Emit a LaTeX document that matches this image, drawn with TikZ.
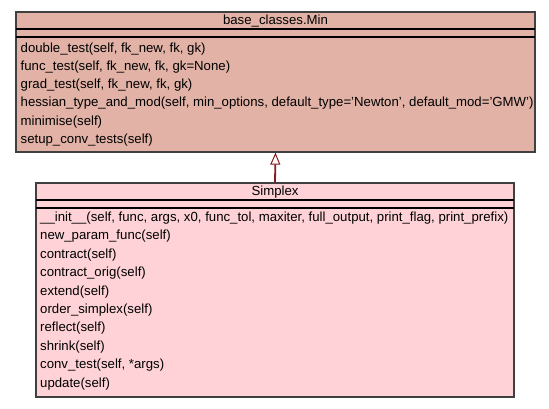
\documentclass[tikz,border=0pt]{standalone}
\usepackage{fontspec}
\setmainfont{Liberation Sans}
\usetikzlibrary{arrows.meta}
\definecolor{minfill}{RGB}{225,178,165}
\definecolor{simfill}{RGB}{254,210,214}
\definecolor{edgecol}{RGB}{64,64,64}
\definecolor{arrowcol}{RGB}{139,26,26}
\begin{document}
\begin{tikzpicture}[x=1pt,y=-1pt,
  classbox/.style={draw=edgecol,line width=1.2pt,rectangle,inner sep=0pt},
  sepline/.style={draw=black,line width=1.2pt},
  member/.style={anchor=west,inner sep=0pt,font=\fontsize{13.2}{15}\selectfont,text height=9.5pt,text depth=3pt},
  titletext/.style={inner sep=0pt,font=\fontsize{13.2}{15}\selectfont,text height=9.5pt,text depth=3pt},
  inherit/.style={draw=arrowcol,line width=1.8pt,-{Triangle[open,length=12pt,width=10pt,line width=1pt]}}
]
\useasboundingbox (0,0) rectangle (549,408);
% base_classes.Min
\node[classbox,fill=minfill,minimum width=519pt,minimum height=140pt] (min) at (275.5,82) {};
\draw[sepline] (16,29) -- (535,29);
\draw[sepline] (16,37) -- (535,37);
\node[titletext] (mintitle) at (275.5,21.5) {base\_classes.Min};
\node[member] (m1) at (20.5,48.8) {double\_test(self, fk\_new, fk, gk)};
\node[member] (m2) at (20.5,67.1) {func\_test(self, fk\_new, fk, gk=None)};
\node[member] (m3) at (20.5,85.4) {grad\_test(self, fk\_new, fk, gk)};
\node[member] (m4) at (20.5,103.7) {hessian\_type\_and\_mod(self, min\_options, default\_type='Newton', default\_mod='GMW')};
\node[member] (m5) at (20.5,122.0) {minimise(self)};
\node[member] (m6) at (20.5,140.3) {setup\_conv\_tests(self)};
% Simplex
\node[classbox,fill=simfill,minimum width=478pt,minimum height=214pt] (simplex) at (275,290) {};
\draw[sepline] (36,200) -- (514,200);
\draw[sepline] (36,208) -- (514,208);
\node[titletext] (simtitle) at (275,192.5) {Simplex};
\node[member] (s1) at (40,218.2) {\_\_init\_\_(self, func, args, x0, func\_tol, maxiter, full\_output, print\_flag, print\_prefix)};
\node[member] (s2) at (40,236.6) {new\_param\_func(self)};
\node[member] (s3) at (40,255.0) {contract(self)};
\node[member] (s4) at (40,273.4) {contract\_orig(self)};
\node[member] (s5) at (40,291.8) {extend(self)};
\node[member] (s6) at (40,310.2) {order\_simplex(self)};
\node[member] (s7) at (40,328.6) {reflect(self)};
\node[member] (s8) at (40,347.0) {shrink(self)};
\node[member] (s9) at (40,365.4) {conv\_test(self, *args)};
\node[member] (s10) at (40,383.8) {update(self)};
% inheritance
\draw[inherit] (simplex.north) -- (min.south);
\end{tikzpicture}
\end{document}
